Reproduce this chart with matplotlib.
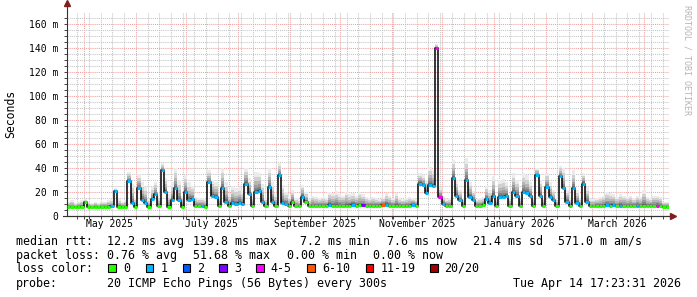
import matplotlib
matplotlib.use("Agg")
import matplotlib.pyplot as plt
import matplotlib.dates as mdates
from matplotlib.patches import Rectangle
from datetime import datetime, timedelta

plt.rcParams['font.family'] = ['DejaVu Sans Mono']

# 2-day bins starting 2025-04-20 20:00 (360 days shown)
t_start = datetime(2025, 4, 20, 20)
bin_days = 2

# median rtt per bin (ms)
median = [
    7.5, 7.5, 7.4, 7.5, 7.6, 11.5, 7.6, 7.4, 7.5, 7.4,
    7.5, 7.4, 7.6, 8.0, 21, 7.5, 7.6, 7.5, 29, 11,
    7.5, 23, 13, 11, 7.5, 14, 18, 8.0, 38, 20,
    7.8, 13, 23, 13, 7.8, 20, 13, 14, 8.0, 8.5,
    8.0, 7.6, 28, 17, 16, 8.0, 23, 12, 8.0, 11,
    10, 11, 10, 27, 18, 8.0, 20, 21, 12, 8.0,
    24, 12, 8.0, 34, 11, 10, 8.0, 12, 8.0, 8.0,
    16, 12, 8.0, 8.5, 8.6, 8.4, 8.5, 8.6, 9.5, 8.5,
    8.6, 8.4, 8.5, 8.7, 8.5, 9.5, 8.6, 8.8, 9.0, 8.5,
    8.6, 8.5, 8.4, 8.5, 9.0, 9.5, 8.6, 8.5, 8.6, 8.5,
    8.4, 8.5, 8.6, 9.5, 8.5, 27, 26, 19, 26, 25,
    139.8, 16, 10, 8.5, 8.5, 32, 17, 13, 8.5, 30,
    16, 13, 8.5, 8.5, 9.0, 14, 11, 17, 8.5, 16,
    16, 17, 8.5, 20, 17, 8.5, 20, 19, 17, 8.5,
    34, 17, 8.5, 24, 16, 13, 8.5, 33, 23, 12,
    8.5, 23, 11, 8.5, 27, 12, 8.2, 8.3, 8.2, 8.4,
    8.3, 9.0, 8.5, 9.0, 8.4, 8.6, 8.3, 8.4, 8.5, 8.3,
    8.6, 8.4, 8.3, 8.5, 8.2, 8.4, 8.6, 8.3, 7.6, 7.6,
]

# top of the smoke (slowest pings) per bin (ms)
smoke_top = [
    12, 13, 11, 12, 13, 14, 12, 11, 12, 11,
    12, 12, 13, 14, 23, 14, 12, 13, 37, 27,
    15, 35, 28, 24, 14, 24, 28, 17, 44, 32,
    18, 28, 40, 30, 17, 34, 28, 25, 16, 15,
    15, 14, 38, 30, 28, 16, 40, 28, 18, 25,
    23, 24, 21, 40, 32, 16, 37, 36, 27, 15,
    40, 28, 18, 44, 26, 20, 16, 22, 15, 14,
    26, 20, 14, 17, 16, 15, 16, 15, 20, 19,
    21, 18, 17, 20, 18, 19, 17, 20, 18, 16,
    15, 16, 15, 14, 16, 19, 17, 15, 19, 15,
    14, 15, 16, 15, 14, 36, 34, 30, 41, 38,
    143, 24, 17, 14, 15, 47, 30, 22, 15, 48,
    28, 21, 14, 15, 16, 25, 22, 33, 15, 30,
    31, 28, 16, 36, 30, 16, 36, 34, 28, 15,
    40, 30, 15, 36, 28, 22, 15, 42, 40, 22,
    15, 38, 22, 15, 36, 24, 14, 14, 15, 16,
    17, 20, 19, 18, 16, 18, 17, 16, 17, 15,
    17, 16, 22, 16, 15, 17, 17, 16, 12, 12,
]

# lost pings out of 20 per bin
loss = [
    0, 0, 0, 0, 0, 0, 0, 0, 0, 0,
    0, 0, 0, 1, 1, 0, 0, 0, 1, 1,
    0, 1, 1, 1, 0, 1, 1, 0, 1, 1,
    0, 1, 1, 1, 0, 1, 1, 1, 0, 0,
    1, 0, 1, 1, 1, 0, 1, 1, 0, 1,
    1, 1, 1, 1, 1, 0, 1, 1, 1, 0,
    1, 1, 0, 1, 1, 1, 0, 0, 0, 0,
    1, 0, 0, 0, 0, 0, 0, 0, 1, 0,
    0, 0, 0, 0, 0, 1, 0, 0, 3, 0,
    0, 0, 0, 0, 7, 1, 0, 0, 0, 0,
    0, 0, 0, 1, 0, 1, 1, 1, 1, 1,
    5, 5, 1, 0, 0, 1, 1, 1, 0, 1,
    1, 1, 0, 0, 0, 1, 1, 1, 0, 1,
    1, 1, 0, 1, 1, 0, 1, 1, 1, 0,
    1, 1, 0, 1, 1, 1, 0, 1, 1, 1,
    0, 1, 1, 0, 1, 1, 0, 0, 0, 0,
    0, 1, 0, 1, 0, 1, 0, 0, 0, 0,
    1, 0, 0, 0, 0, 0, 5, 0, 0, 0,
]

loss_labels = ['0', '1', '2', '3', '4-5', '6-10', '11-19', '20/20']
loss_limits = [0, 1, 2, 3, 5, 10, 19, 20]
loss_colors = ['#26ff00', '#00b8ff', '#0059ff', '#7e00ff',
               '#ff00ff', '#ff5500', '#ff0000', '#a00000']


def loss_color(n):
    for lim, c in zip(loss_limits, loss_colors):
        if n <= lim:
            return c
    return loss_colors[-1]


edges = [t_start + timedelta(days=bin_days * i) for i in range(len(median) + 1)]
xe = mdates.date2num(edges)
med_ext = median + [median[-1]]
top_ext = smoke_top + [smoke_top[-1]]

fig = plt.figure(figsize=(6.97, 2.97), dpi=100)
fig.patch.set_facecolor('white')
ax = fig.add_axes([67 / 697, 81 / 297, 602 / 697, 204 / 297])

# smoke: graded grey bands from the median up to the slowest pings
n_layers = 8
for k in range(n_layers):
    f0 = (k / n_layers) ** 2.2
    f1 = ((k + 1) / n_layers) ** 2.2
    lo = [m + (t - m) * f0 for m, t in zip(med_ext, top_ext)]
    hi = [m + (t - m) * f1 for m, t in zip(med_ext, top_ext)]
    g = 0.2 + 0.72 * k / (n_layers - 1)
    ax.fill_between(xe, lo, hi, step='post', color=(g, g, g), lw=0, zorder=2)

ax.step(xe, med_ext, where='post', color='black', lw=1.1, zorder=3)
ax.hlines(median, xe[:-1], xe[1:], colors=[loss_color(n) for n in loss],
          lw=2.2, zorder=4)

ax.set_xlim(xe[0], mdates.date2num(t_start + timedelta(days=360)))
ax.set_ylim(0, 170)

# grids
ax.xaxis.set_major_locator(mdates.MonthLocator())
ax.xaxis.set_minor_locator(mdates.WeekdayLocator(byweekday=mdates.SU))
ax.set_yticks(range(0, 161, 20))
ax.set_yticks(range(0, 170, 5), minor=True)
ax.set_yticklabels(['0'] + ['%d m' % v for v in range(20, 161, 20)])
ax.grid(which='minor', color='#c4c4c4', ls=(0, (1, 1)), lw=0.75, zorder=1)
ax.grid(which='major', color='#f0a0a0', ls=(0, (1, 1)), lw=0.75, zorder=1)
ax.set_axisbelow(True)
ax.tick_params(axis='x', which='both', labelbottom=False, length=2,
               color='#444444', width=0.7)
ax.tick_params(axis='y', which='both', length=2, color='#444444',
               width=0.7, labelsize=7, pad=4)

for s in ['top', 'right']:
    ax.spines[s].set_visible(False)
for s in ['left', 'bottom']:
    ax.spines[s].set_color('#333333')
    ax.spines[s].set_linewidth(0.8)

# axis arrows
ax.plot([0, 0], [1, 1.04], transform=ax.transAxes, color='#333333',
        lw=0.8, clip_on=False)
ax.plot([0], [1.045], transform=ax.transAxes, marker='^', ms=4,
        color='#7f1f1f', clip_on=False)
ax.plot([-0.006, 1.003], [0, 0], transform=ax.transAxes, color='#333333',
        lw=0.8, clip_on=False)
ax.plot([1.006], [0], transform=ax.transAxes, marker='>', ms=4,
        color='#7f1f1f', clip_on=False)

# month labels, centred in the month
month_labels = ['May 2025', 'July 2025', 'September 2025',
                'November 2025', 'January 2026', 'March 2026']
month_starts = [datetime(2025, 5, 1), datetime(2025, 7, 1),
                datetime(2025, 9, 1), datetime(2025, 11, 1),
                datetime(2026, 1, 1), datetime(2026, 3, 1)]
for lab, d in zip(month_labels, month_starts):
    ax.text(mdates.date2num(d + timedelta(days=15)), -0.04, lab,
            transform=ax.get_xaxis_transform(), ha='center', va='center',
            fontsize=7)

fig.text(11 / 697, 1 - 114 / 297, 'Seconds', rotation=90, ha='center',
         va='center', fontsize=8.3)
fig.text(687 / 697, 1 - 60 / 297, 'RRDTOOL / TOBI OETIKER', rotation=270,
         ha='center', va='center', fontsize=6, color='#b4b4b4')

# legend lines
fs = 8.4


def put(x, y, s):
    fig.text(x / 697, 1 - y / 297, s, ha='left', va='center', fontsize=fs)


y1, y2, y3, y4 = 241.3, 255.6, 268.4, 283.3
put(16, y1, 'median rtt:')
put(107.3, y1, '12.2 ms avg')
put(193.3, y1, '139.8 ms max')
put(300, y1, '7.2 ms min')
put(386.7, y1, '7.6 ms now')
put(472.7, y1, '21.4 ms sd')
put(558.3, y1, '571.0 m am/s')

put(16, y2, 'packet loss:')
put(107.3, y2, '0.76 % avg')
put(193.3, y2, '51.68 % max')
put(286.7, y2, '0.00 % min')
put(372.7, y2, '0.00 % now')

put(16, y3, 'loss color:')
box_x = [108.3, 145.7, 182.7, 219.3, 256, 307.3, 365.7, 430]
for bx, lab, c in zip(box_x, loss_labels, loss_colors):
    fig.patches.append(Rectangle((bx / 697, 1 - (y3 + 4) / 297), 7.5 / 697,
                                 8 / 297, transform=fig.transFigure,
                                 facecolor=c, edgecolor='black', lw=0.8))
    put(bx + 14.5, y3, lab)

put(16, y4, 'probe:')
put(107.3, y4, '20 ICMP Echo Pings (56 Bytes) every 300s')
put(513.3, y4, 'Tue Apr 14 17:23:31 2026')

fig.savefig('out.png', dpi=100)
